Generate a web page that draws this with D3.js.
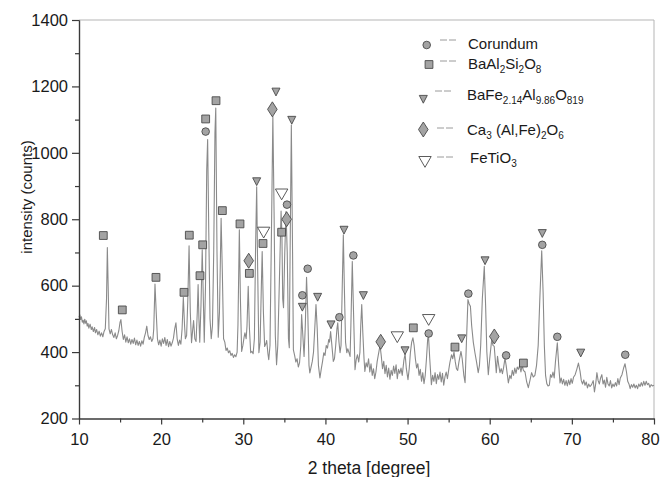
<!DOCTYPE html>
<html>
<head>
<meta charset="utf-8">
<script src="https://cdn.jsdelivr.net/npm/d3@7"></script>
<style>
  body { margin: 0; background: #fff; }
  svg { display: block; font-family: "Liberation Sans", Arial, sans-serif; }
</style>
</head>
<body>
<svg id="chart" width="661" height="477"></svg>
<script>
// XRD scan, [2 theta, counts]
const pattern = [
  [10.0, 505], [10.1, 512], [10.2, 498], [10.3, 506], [10.4, 490], [10.5, 496], [10.6, 485], [10.7, 499],
  [10.8, 487], [10.9, 494], [11.0, 478], [11.1, 486], [11.2, 472], [11.35, 484], [11.5, 468], [11.6, 476],
  [11.75, 462], [11.9, 474], [12.0, 458], [12.15, 468], [12.3, 452], [12.45, 463], [12.6, 448], [12.75, 458],
  [12.9, 446], [13.05, 462], [13.2, 470], [13.35, 560], [13.45, 715], [13.55, 600], [13.65, 470], [13.8, 455],
  [13.95, 468], [14.1, 452], [14.25, 444], [14.4, 458], [14.55, 440], [14.7, 450], [14.85, 465], [15.0, 490],
  [15.1, 498], [15.25, 462], [15.4, 438], [15.55, 452], [15.7, 430], [15.85, 446], [16.0, 428], [16.15, 440],
  [16.3, 424], [16.45, 438], [16.6, 426], [16.75, 442], [16.9, 422], [17.05, 436], [17.2, 420], [17.35, 432],
  [17.5, 418], [17.65, 434], [17.8, 424], [17.95, 444], [18.1, 458], [18.25, 478], [18.4, 450], [18.55, 438],
  [18.7, 446], [18.85, 432], [19.0, 440], [19.1, 470], [19.25, 605], [19.4, 520], [19.55, 440], [19.7, 422],
  [19.85, 436], [20.0, 418], [20.15, 440], [20.3, 426], [20.45, 444], [20.6, 420], [20.75, 438], [20.9, 416],
  [21.05, 432], [21.2, 418], [21.35, 428], [21.5, 442], [21.65, 470], [21.8, 488], [21.95, 440], [22.1, 420],
  [22.25, 436], [22.4, 424], [22.55, 470], [22.7, 565], [22.85, 480], [22.95, 440], [23.1, 450], [23.25, 560],
  [23.4, 720], [23.55, 520], [23.7, 428], [23.85, 470], [23.95, 495], [24.1, 440], [24.25, 432], [24.4, 520],
  [24.5, 603], [24.6, 500], [24.7, 430], [24.85, 540], [25.0, 708], [25.1, 600], [25.25, 430], [25.4, 600],
  [25.55, 950], [25.66, 1040], [25.8, 760], [25.95, 500], [26.1, 440], [26.25, 480], [26.4, 700], [26.55, 1060],
  [26.65, 1135], [26.8, 700], [26.95, 445], [27.1, 520], [27.3, 803], [27.45, 640], [27.6, 440], [27.75, 430],
  [27.9, 405], [28.05, 412], [28.2, 398], [28.35, 404], [28.5, 390], [28.65, 396], [28.8, 384], [28.95, 392],
  [29.1, 386], [29.25, 400], [29.35, 480], [29.52, 768], [29.65, 560], [29.8, 402], [29.95, 420], [30.1, 445],
  [30.2, 458], [30.35, 440], [30.45, 478], [30.6, 598], [30.75, 470], [30.9, 398], [31.05, 402], [31.2, 395],
  [31.35, 440], [31.5, 720], [31.63, 898], [31.75, 650], [31.9, 398], [32.05, 430], [32.2, 600], [32.3, 703],
  [32.45, 520], [32.6, 417], [32.75, 425], [32.85, 435], [33.0, 395], [33.1, 377], [33.25, 420], [33.45, 800],
  [33.6, 1110], [33.75, 820], [33.9, 450], [34.05, 362], [34.2, 420], [34.4, 620], [34.6, 825], [34.7, 760],
  [34.8, 560], [34.9, 534], [35.05, 700], [35.2, 823], [35.35, 700], [35.5, 440], [35.6, 413], [35.7, 700],
  [35.85, 1084], [36.0, 700], [36.1, 407], [36.25, 390], [36.4, 370], [36.55, 380], [36.7, 355], [36.85, 368],
  [37.0, 420], [37.1, 513], [37.25, 450], [37.4, 387], [37.55, 480], [37.7, 625], [37.85, 520], [38.0, 360],
  [38.1, 337], [38.25, 355], [38.4, 372], [38.55, 400], [38.7, 470], [38.85, 543], [39.0, 470], [39.15, 360],
  [39.33, 322], [39.5, 350], [39.65, 372], [39.8, 398], [39.95, 390], [40.1, 420], [40.25, 412], [40.4, 438],
  [40.5, 430], [40.63, 462], [40.75, 430], [40.96, 372], [41.1, 380], [41.25, 420], [41.4, 470], [41.5, 488],
  [41.65, 430], [41.78, 398], [41.9, 420], [42.05, 600], [42.18, 753], [42.3, 600], [42.45, 430], [42.6, 398],
  [42.72, 410], [42.85, 400], [43.0, 387], [43.1, 480], [43.27, 673], [43.4, 540], [43.6, 347], [43.75, 378],
  [43.9, 392], [44.05, 370], [44.2, 400], [44.3, 480], [44.42, 543], [44.55, 460], [44.7, 380], [44.8, 342],
  [44.95, 368], [45.1, 355], [45.25, 380], [45.4, 340], [45.55, 365], [45.7, 330], [45.85, 350], [46.0, 320],
  [46.15, 340], [46.3, 372], [46.5, 400], [46.65, 420], [46.8, 388], [46.95, 350], [47.1, 372], [47.25, 335],
  [47.4, 360], [47.55, 325], [47.7, 352], [47.85, 318], [48.0, 345], [48.15, 330], [48.3, 358], [48.45, 336],
  [48.6, 362], [48.75, 320], [48.9, 348], [49.05, 336], [49.2, 352], [49.35, 330], [49.55, 375], [49.7, 395],
  [49.85, 350], [50.05, 317], [50.2, 350], [50.35, 400], [50.5, 430], [50.65, 443], [50.8, 420], [50.95, 380],
  [51.1, 352], [51.25, 365], [51.4, 330], [51.55, 348], [51.7, 312], [51.85, 338], [52.0, 305], [52.15, 330],
  [52.3, 380], [52.45, 440], [52.55, 448], [52.7, 380], [52.9, 302], [53.05, 330], [53.2, 312], [53.35, 338],
  [53.5, 305], [53.65, 332], [53.8, 318], [53.95, 340], [54.1, 310], [54.25, 336], [54.4, 300], [54.55, 325],
  [54.7, 340], [54.85, 320], [55.0, 345], [55.15, 368], [55.35, 392], [55.5, 380], [55.65, 400], [55.8, 372],
  [55.95, 350], [56.1, 345], [56.25, 370], [56.5, 402], [56.65, 380], [56.85, 330], [57.0, 308], [57.15, 420],
  [57.35, 558], [57.5, 545], [57.65, 538], [57.8, 480], [58.0, 430], [58.2, 398], [58.4, 370], [58.6, 338],
  [58.75, 360], [58.9, 420], [59.1, 560], [59.34, 658], [59.5, 540], [59.65, 400], [59.83, 332], [60.0, 380],
  [60.24, 437], [60.4, 420], [60.55, 417], [60.7, 370], [60.8, 338], [60.95, 387], [61.1, 360], [61.25, 338],
  [61.4, 350], [61.55, 335], [61.7, 355], [61.86, 382], [62.0, 360], [62.27, 307], [62.45, 330], [62.6, 320],
  [62.75, 345], [62.9, 330], [63.05, 352], [63.2, 336], [63.35, 355], [63.5, 348], [63.65, 360], [63.8, 340],
  [63.95, 360], [64.1, 345], [64.3, 340], [64.5, 310], [64.7, 293], [64.9, 315], [65.1, 338], [65.3, 325],
  [65.5, 330], [65.7, 360], [65.9, 420], [66.1, 560], [66.33, 705], [66.5, 580], [66.65, 420], [66.8, 330],
  [66.95, 305], [67.1, 298], [67.26, 300], [67.4, 332], [67.55, 324], [67.7, 340], [67.85, 322], [68.0, 370],
  [68.23, 428], [68.4, 360], [68.56, 307], [68.7, 322], [68.85, 304], [69.0, 318], [69.15, 300], [69.3, 314],
  [69.45, 298], [69.6, 316], [69.75, 302], [69.9, 320], [70.05, 306], [70.2, 324], [70.4, 332], [70.6, 348],
  [70.8, 367], [71.0, 342], [71.15, 314], [71.3, 304], [71.45, 316], [71.6, 300], [71.75, 310], [71.9, 292],
  [72.05, 304], [72.2, 296], [72.4, 302], [72.6, 314], [72.75, 280], [72.9, 304], [73.05, 338], [73.2, 314],
  [73.35, 304], [73.5, 322], [73.65, 332], [73.8, 304], [73.95, 316], [74.1, 294], [74.25, 324], [74.4, 304],
  [74.55, 298], [74.7, 314], [74.85, 292], [75.0, 304], [75.15, 296], [75.3, 308], [75.45, 298], [75.6, 320],
  [75.75, 302], [75.9, 322], [76.1, 332], [76.3, 352], [76.47, 365], [76.65, 340], [76.8, 312], [76.95, 304],
  [77.1, 290], [77.25, 302], [77.4, 294], [77.55, 304], [77.7, 292], [77.85, 300], [78.0, 290], [78.15, 304],
  [78.3, 296], [78.45, 308], [78.6, 298], [78.75, 312], [78.9, 300], [79.05, 312], [79.2, 302], [79.35, 306],
  [79.5, 294], [79.65, 302], [79.8, 298], [80.0, 300]
];

// phase markers, [2 theta, counts]
const corundum = [[25.42, 1064], [35.32, 844], [37.19, 571], [37.84, 651], [41.7, 505], [43.4, 691],
  [52.57, 456], [57.4, 576], [62.0, 390], [66.4, 723], [68.23, 446], [76.5, 392]];
const baAlSi = [[12.96, 751], [15.27, 527], [19.37, 625], [22.78, 580], [23.43, 752], [24.73, 630],
  [25.06, 723], [25.42, 1102], [26.68, 1157], [27.45, 826], [29.6, 786], [30.74, 637], [32.4, 727],
  [34.67, 761], [50.7, 473], [55.77, 415], [64.1, 367]];
const baFeAl = [[31.63, 914], [33.98, 1184], [35.9, 1099], [37.19, 536], [39.05, 566], [40.68, 483],
  [42.26, 768], [44.62, 571], [49.69, 405], [56.59, 441], [59.43, 676], [66.4, 758], [71.08, 398]];
const caAlFe = [[30.66, 675], [33.54, 1131], [35.28, 800], [46.73, 431], [60.56, 447]];
const feTiO3 = [[32.48, 761], [34.67, 876], [48.75, 446], [52.57, 498]];

const xTicks = [10, 20, 30, 40, 50, 60, 70, 80];
const xMinor = [15, 25, 35, 45, 55, 65, 75];
const yTicks = [200, 400, 600, 800, 1000, 1200, 1400];
const yMinor = [300, 500, 700, 900, 1100, 1300];

const legendNames = [
  [["Corundum", 0]],
  [["BaAl", 0], ["2", 1], ["Si", 0], ["2", 1], ["O", 0], ["8", 1]],
  [["BaFe", 0], ["2.14", 1], ["Al", 0], ["9.86", 1], ["O", 0], ["819", 1]],
  [["Ca", 0], ["3", 1], [" (Al,Fe)", 0], ["2", 1], ["O", 0], ["6", 1]],
  [["FeTiO", 0], ["3", 1]]
];

const svg = d3.select('#chart');
const x = d3.scaleLinear().domain([10, 80]).range([79, 654]);
const y = d3.scaleLinear().domain([200, 1400]).range([418.5, 20]);

// marker shapes
const shapes = {
  circle: 'M3.8,0A3.8,3.8,0,1,1,-3.8,0A3.8,3.8,0,1,1,3.8,0Z',
  square: 'M-3.9,-3.9H3.9V3.9H-3.9Z',
  tri: 'M-4,-3.6H4L0,4.2Z',
  diamond: 'M0,-7.5L4.8,0L0,7.5L-4.8,0Z',
  openTri: 'M-6.2,-5H6.2L0,5.8Z'
};
const fills = { circle: '#a3a3a3', square: '#a3a3a3', tri: '#a3a3a3', diamond: '#a3a3a3', openTri: '#fff' };

// frame
svg.append('path')
  .attr('d', `M${x(10)},${y(1400)}H${x(80)}V${y(200)}`)
  .attr('fill', 'none').attr('stroke', '#b5b5b5').attr('stroke-width', 1);

// pattern
const line = d3.line().x(d => x(d[0])).y(d => y(d[1]));
svg.append('path')
  .datum(pattern)
  .attr('d', line)
  .attr('fill', 'none')
  .attr('stroke', '#8a8a8a')
  .attr('stroke-width', 1.1)
  .attr('stroke-linejoin', 'round');

// axes
function styleAxis(g) {
  g.select('.domain').attr('stroke', '#3a3a3a').attr('stroke-width', 1.2);
  g.selectAll('.tick line').attr('stroke', '#3a3a3a').attr('stroke-width', 1.2);
  g.selectAll('.tick text').attr('fill', '#1a1a1a').style('font-size', '16.5px');
}

svg.append('g')
  .attr('transform', `translate(${x(10)},0)`)
  .call(d3.axisLeft(y).tickValues(yMinor).tickSize(4).tickFormat('').tickSizeOuter(0))
  .call(styleAxis);
svg.append('g')
  .attr('transform', `translate(${x(10)},0)`)
  .call(d3.axisLeft(y).tickValues(yTicks).tickSize(7).tickPadding(4).tickSizeOuter(0).tickFormat(d3.format('d')))
  .call(styleAxis);

svg.append('g')
  .attr('transform', `translate(0,${y(200)})`)
  .call(d3.axisBottom(x).tickValues(xMinor).tickSize(4).tickFormat('').tickSizeOuter(0))
  .call(styleAxis);
svg.append('g')
  .attr('transform', `translate(0,${y(200)})`)
  .call(d3.axisBottom(x).tickValues(xTicks).tickSize(6).tickPadding(9).tickSizeOuter(0).tickFormat(d3.format('d')))
  .call(styleAxis)
  .call(g => g.selectAll('.tick text').filter(d => d === 80).attr('dx', -4));

svg.append('text')
  .attr('transform', 'translate(32,197) rotate(-90)')
  .attr('text-anchor', 'middle')
  .attr('fill', '#1a1a1a')
  .style('font-size', '15px')
  .text('intensity (counts)');

svg.append('text')
  .attr('x', 369).attr('y', 474)
  .attr('text-anchor', 'middle')
  .attr('fill', '#1a1a1a')
  .style('font-size', '17.5px')
  .text('2 theta [degree]');

// markers
const phases = [
  { data: corundum, shape: 'circle' },
  { data: baAlSi, shape: 'square' },
  { data: baFeAl, shape: 'tri' },
  { data: caAlFe, shape: 'diamond' },
  { data: feTiO3, shape: 'openTri' }
];

phases.forEach(p => {
  svg.append('g').selectAll('path')
    .data(p.data)
    .join('path')
    .attr('transform', d => `translate(${x(d[0])},${y(d[1])})`)
    .attr('d', shapes[p.shape])
    .attr('fill', fills[p.shape])
    .attr('stroke', '#4a4a4a')
    .attr('stroke-width', 0.9);
});

// legend
const legendRows = [
  { mx: 426.7, my: 45, dx: 440, dy: 40, tx: 468, ty: 48.5 },
  { mx: 429, my: 64.5, dx: 440, dy: 61, tx: 468, ty: 68.5 },
  { mx: 423.3, my: 99, dx: 435, dy: 91, tx: 467, ty: 99.5 },
  { mx: 423.3, my: 129.5, dx: 437, dy: 128, tx: 467, ty: 135 },
  { mx: 425, my: 161.5, dx: 437, dy: 157, tx: 470, ty: 162.5 }
];

const legend = svg.append('g');
legendRows.forEach((r, i) => {
  const shape = phases[i].shape;
  legend.append('path')
    .attr('transform', `translate(${r.mx},${r.my})`)
    .attr('d', shapes[shape])
    .attr('fill', fills[shape])
    .attr('stroke', '#4a4a4a')
    .attr('stroke-width', 0.9);
  legend.append('path')
    .attr('d', `M${r.dx},${r.dy}h7M${r.dx + 9},${r.dy}h7`)
    .attr('stroke', '#9a9a9a')
    .attr('stroke-width', 1);
  const t = legend.append('text')
    .attr('x', r.tx).attr('y', r.ty)
    .attr('fill', '#1a1a1a')
    .style('font-size', '15px');
  let sub = false;
  legendNames[i].forEach(([s, isSub]) => {
    const ts = t.append('tspan').text(s);
    if (isSub && !sub) ts.attr('dy', 4).style('font-size', '10px');
    else if (isSub) ts.style('font-size', '10px');
    else if (sub) ts.attr('dy', -4);
    sub = !!isSub;
  });
});
</script>
</body>
</html>
